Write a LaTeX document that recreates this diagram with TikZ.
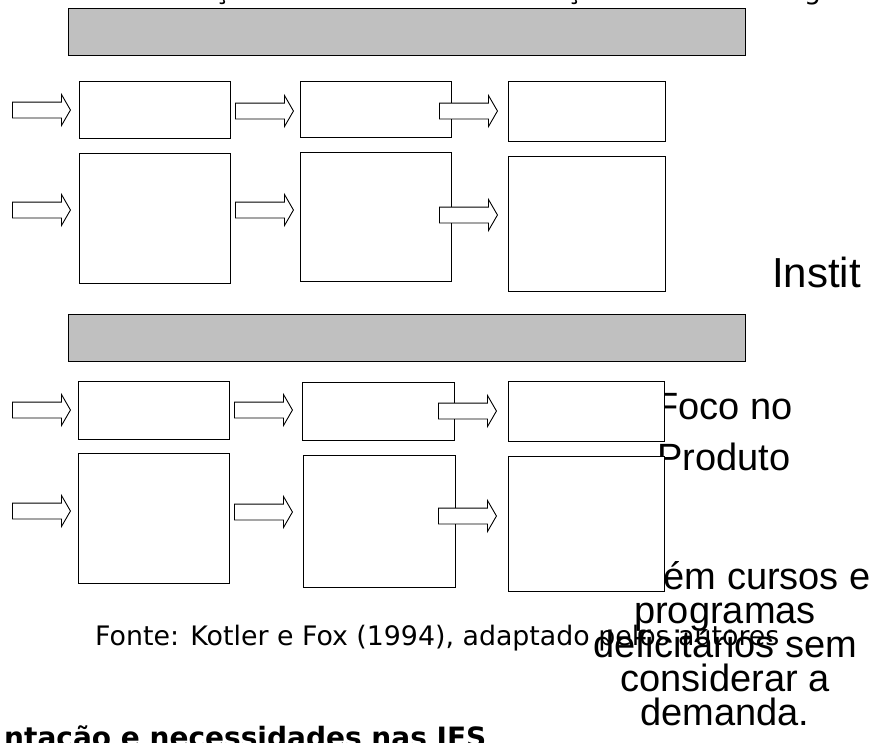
\documentclass[tikz,border=0pt]{standalone}
\usepackage{fontspec}
\setmainfont{Liberation Sans}
\newfontfamily\srcfont{DejaVu Sans}
\usetikzlibrary{positioning,shapes.arrows}
\definecolor{barGray}{RGB}{192,192,192}
\newcommand{\tightlines}{\lineskiplimit=-100pt\relax}
\tikzset{
  band/.style={rectangle, draw=black, line width=1.2pt, fill=barGray,
               inner sep=0pt, anchor=north west},
  box/.style={rectangle, draw=black, line width=1.2pt, fill=white,
              inner sep=0pt, anchor=north west},
  blk/.style={single arrow, draw=black, line width=0.9pt, fill=white,
              inner xsep=0pt, inner ysep=7.5pt, minimum height=58pt,
              single arrow head extend=7.5pt, single arrow tip angle=120,
              anchor=tail},
  big/.style={font=\fontsize{38}{34}\selectfont\tightlines,
              inner sep=0pt, align=center},
  src/.style={font=\srcfont\fontsize{26.8}{30}\selectfont, inner sep=0pt,
              anchor=base west},
}

\begin{document}
\begin{tikzpicture}[x=1pt, y=-1pt]
  \useasboundingbox (0,0) rectangle (870,742);

  % --- text lying behind the panels ---
  \node[src] (frag1) at (214,-1) {ção};
  \node[src] (frag2) at (566,-1) {ção};
  \node[src] (frag3) at (804,-1) {g};
  \node[big,anchor=base west,font=\fontsize{42}{42}\selectfont] (inst) at (772,287) {Instit};
  \node[big,anchor=north,font=\fontsize{38}{51}\selectfont\tightlines] (foco) at (724,393) {Foco no\\Produto};
  \node[big,anchor=north] (def) at (725,561)
    {também cursos e\\programas\\deficitários sem\\considerar a\\demanda.};
  \node[src] (fonte) at (95,645) {Fonte: Kotler e Fox (1994), adaptado pelos autores};
  \node[src,font=\srcfont\bfseries\fontsize{28}{30}\selectfont] (titulo) at (4,747)
    {ntação e necessidades nas IES};

  % --- upper panel ---
  \node[band,minimum width=677pt,minimum height=47pt] (bar1) at (68,8) {};
  \node[box,minimum width=151pt,minimum height=57pt]  (b11) at (79,81) {};
  \node[box,minimum width=151pt,minimum height=56pt]  (b12) at (300,81) {};
  \node[box,minimum width=157pt,minimum height=60pt]  (b13) at (508,81) {};
  \node[box,minimum width=151pt,minimum height=130pt] (b21) at (79,153) {};
  \node[box,minimum width=151pt,minimum height=129pt] (b22) at (300,152) {};
  \node[box,minimum width=157pt,minimum height=135pt] (b23) at (508,156) {};

  \node[blk] (a11) at (12,110) {};
  \node[blk] (a12) at (235,111) {};
  \node[blk] (a13) at (439,111) {};
  \node[blk] (a21) at (12,210) {};
  \node[blk] (a22) at (235,210) {};
  \node[blk] (a23) at (439,215) {};

  % --- lower panel ---
  \node[band,minimum width=677pt,minimum height=47pt] (bar2) at (68,314) {};
  \node[box,minimum width=151pt,minimum height=58pt]  (b31) at (78,381) {};
  \node[box,minimum width=152pt,minimum height=58pt]  (b32) at (302,382) {};
  \node[box,minimum width=156pt,minimum height=60pt]  (b33) at (508,381) {};
  \node[box,minimum width=151pt,minimum height=130pt] (b41) at (78,453) {};
  \node[box,minimum width=152pt,minimum height=132pt] (b42) at (303,455) {};
  \node[box,minimum width=156pt,minimum height=135pt] (b43) at (508,456) {};

  \node[blk] (a31) at (12,410) {};
  \node[blk] (a32) at (234,410) {};
  \node[blk] (a33) at (438,411) {};
  \node[blk] (a41) at (12,511) {};
  \node[blk] (a42) at (234,512) {};
  \node[blk] (a43) at (438,516) {};
\end{tikzpicture}
\end{document}
